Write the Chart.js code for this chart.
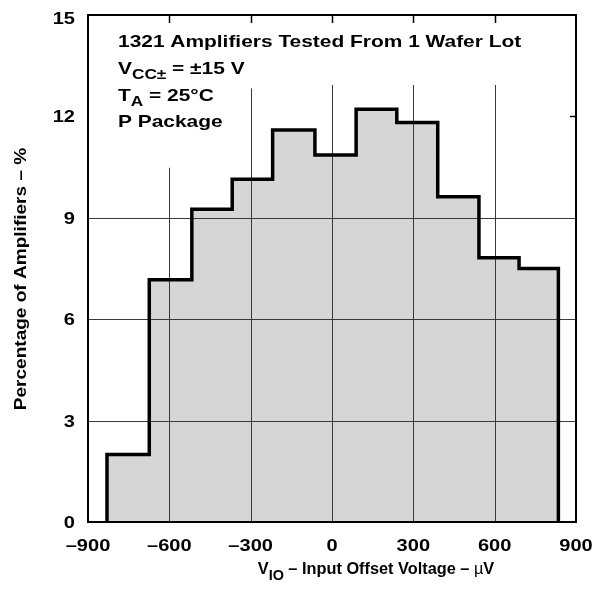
<!DOCTYPE html>
<html>
<head>
<meta charset="utf-8">
<script src="https://cdn.jsdelivr.net/npm/chart.js@4.4.1/dist/chart.umd.min.js"></script>
<style>
  html, body { margin: 0; padding: 0; background: #fff; }
  canvas { display: block; }
</style>
</head>
<body>
<canvas id="hist" width="597" height="595"></canvas>
<script>
// histogram bins (input offset voltage, uV) and share of amplifiers (%)
const binEdges = [-830, -674, -517, -368, -219, -63, 89, 239, 390, 542, 690, 835];
const percentages = [2.0, 7.17, 9.25, 10.14, 11.6, 10.86, 12.21, 11.82, 9.62, 7.82, 7.5];

const xTicks = [-900, -600, -300, 0, 300, 600, 900];
const xTickLabels = ["\u2013900", "\u2013600", "\u2013300", "0", "300", "600", "900"];
const yTicks = [0, 3, 6, 9, 12, 15];
const yTickLabels = ["0", "3", "6", "9", "12", "15"];

const FONT = '"Liberation Sans", Arial, Helvetica, sans-serif';

// step outline points built from the bins
function stepPoints() {
    const pts = [{ x: binEdges[0], y: 0 }];
    percentages.forEach((p, i) => pts.push({ x: binEdges[i], y: p }));
    const last = percentages[percentages.length - 1];
    pts.push({ x: binEdges[binEdges.length - 1], y: last });
    pts.push({ x: binEdges[binEdges.length - 1], y: 0 });
    return pts;
}

// where each vertical grid line starts at the top (the annotation leaves them short)
const vGridTop = { "-600": 10.48, "-300": 12.83, "0": 12.93, "300": 12.93, "600": 12.93 };

// the original lettering is a wide bold sans, so text is stretched sideways
function drawRich(ctx, parts, x, y, opts) {
    // parts: [text, isSub, weight]
    const o = Object.assign({ size: 17, sub: 14, drop: 5, stretch: 1, align: "left" }, opts);
    const fontOf = p => `${p[2] || "bold"} ${p[1] ? o.sub : o.size}px ${FONT}`;
    let total = 0;
    parts.forEach(p => {
        ctx.font = fontOf(p);
        total += ctx.measureText(p[0]).width;
    });
    const w = total * o.stretch;
    const x0 = o.align === "center" ? x - w / 2 : o.align === "right" ? x - w : x;
    ctx.save();
    ctx.translate(x0, y);
    ctx.scale(o.stretch, 1);
    ctx.textAlign = "left";
    ctx.textBaseline = o.baseline || "alphabetic";
    let cx = 0;
    parts.forEach(p => {
        ctx.font = fontOf(p);
        ctx.fillText(p[0], cx, p[1] ? o.drop : 0);
        cx += ctx.measureText(p[0]).width;
    });
    ctx.restore();
}

const decorPlugin = {
    id: "decor",
    afterDatasetDraw(chart, args) {
        if (chart.data.datasets[args.index].label !== "fill") return;
        const { ctx, chartArea: a, scales: { x, y } } = chart;
        ctx.save();
        ctx.strokeStyle = "#3a3a3a";
        ctx.lineWidth = 1;
        ctx.beginPath();
        [3, 6, 9].forEach(v => {
            const py = Math.round(y.getPixelForValue(v)) + 0.5;
            ctx.moveTo(a.left, py);
            ctx.lineTo(a.right, py);
        });
        Object.keys(vGridTop).forEach(k => {
            const px = Math.round(x.getPixelForValue(Number(k))) + 0.5;
            ctx.moveTo(px, y.getPixelForValue(vGridTop[k]));
            ctx.lineTo(px, a.bottom);
        });
        ctx.stroke();
        ctx.restore();
    },
    afterDraw(chart) {
        const { ctx, chartArea: a, scales: { x, y } } = chart;
        ctx.save();
        // short ticks along the top and at 12 on the right
        ctx.strokeStyle = "#000";
        ctx.lineWidth = 1.5;
        ctx.beginPath();
        xTicks.slice(1, -1).forEach(v => {
            const px = Math.round(x.getPixelForValue(v)) + 0.5;
            ctx.moveTo(px, a.top);
            ctx.lineTo(px, a.top + 8);
        });
        const p12 = Math.round(y.getPixelForValue(12)) + 0.5;
        ctx.moveTo(a.right, p12);
        ctx.lineTo(a.right - 6, p12);
        ctx.stroke();

        // frame
        ctx.lineWidth = 2;
        ctx.strokeRect(a.left, a.top, a.right - a.left, a.bottom - a.top);

        ctx.fillStyle = "#000";

        // tick labels
        xTicks.forEach((v, i) => {
            drawRich(ctx, [[xTickLabels[i]]], x.getPixelForValue(v), a.bottom + 29,
                { align: "center", stretch: 1.18 });
        });
        yTicks.forEach((v, i) => {
            const py = Math.max(y.getPixelForValue(v) + 6, a.top + 9);
            drawRich(ctx, [[yTickLabels[i]]], a.left - 13, py, { align: "right", stretch: 1.18 });
        });

        // annotation
        const tx = a.left + 30;
        const ann = { stretch: 1.23 };
        drawRich(ctx, [["1321 Amplifiers Tested From 1 Wafer Lot"]], tx, 47, ann);
        drawRich(ctx, [["V"], ["CC\u00b1", true], [" = \u00b115 V"]], tx, 74, ann);
        drawRich(ctx, [["T"], ["A", true], [" = 25\u00b0C"]], tx, 101, ann);
        drawRich(ctx, [["P Package"]], tx, 127, ann);

        // x axis title
        drawRich(ctx, [["V"], ["IO", true], [" \u2013 Input Offset Voltage \u2013 "], ["\u00b5", false, "normal"], ["V"]],
            376, 574, { align: "center", stretch: 0.96, sub: 15, drop: 5.5 });

        // y axis title
        ctx.translate(26, 279);
        ctx.rotate(-Math.PI / 2);
        drawRich(ctx, [["Percentage of Amplifiers \u2013 %"]], 0, 0, { align: "center", stretch: 1.12 });
        ctx.restore();
    }
};

const points = stepPoints();

new Chart(document.getElementById("hist").getContext("2d"), {
    type: "line",
    data: {
        datasets: [
            {
                label: "outline",
                data: points,
                stepped: "before",
                borderColor: "#000",
                borderWidth: 3.5,
                borderJoinStyle: "miter",
                borderCapStyle: "butt",
                pointRadius: 0,
                fill: false,
                order: 1,
            },
            {
                label: "fill",
                data: points,
                stepped: "before",
                borderWidth: 0,
                borderColor: "rgba(0,0,0,0)",
                backgroundColor: "#d6d6d6",
                pointRadius: 0,
                fill: "origin",
                order: 2,
            },
        ],
    },
    options: {
        responsive: false,
        animation: false,
        layout: { padding: { left: 0, right: 21, top: 15, bottom: 0 } },
        plugins: {
            legend: { display: false },
            tooltip: { enabled: false },
        },
        scales: {
            x: {
                type: "linear",
                min: -900,
                max: 900,
                afterBuildTicks: s => { s.ticks = xTicks.map(v => ({ value: v })); },
                afterFit: s => { s.height = 73; s.paddingLeft = 0; s.paddingRight = 0; },
                ticks: { display: false },
                grid: { display: false, drawTicks: false },
                border: { display: false },
            },
            y: {
                min: 0,
                max: 15,
                afterBuildTicks: s => { s.ticks = yTicks.map(v => ({ value: v })); },
                afterFit: s => { s.width = 88; s.paddingTop = 0; s.paddingBottom = 0; },
                ticks: { display: false },
                grid: { display: false, drawTicks: false },
                border: { display: false },
            },
        },
    },
    plugins: [decorPlugin],
});
</script>
</body>
</html>
